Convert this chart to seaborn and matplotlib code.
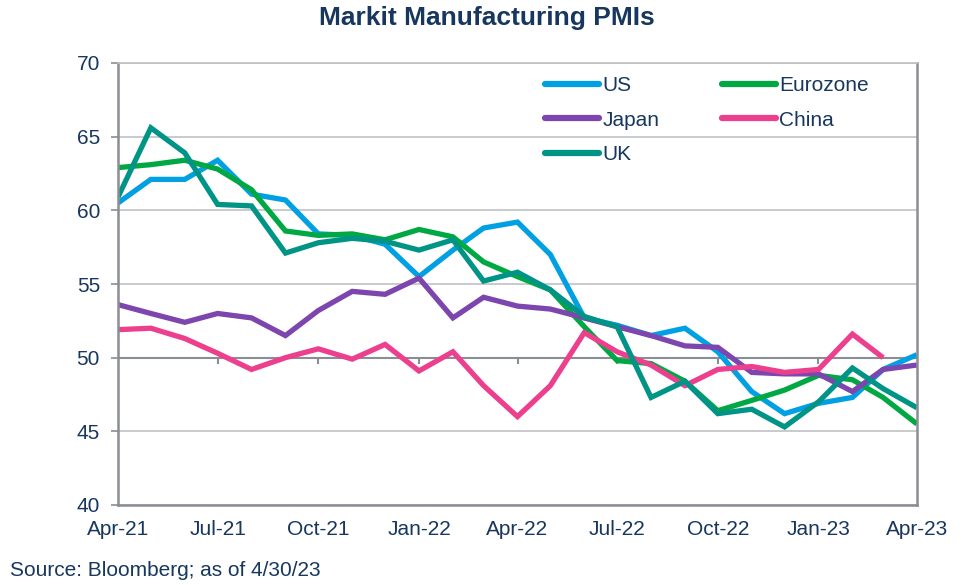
import matplotlib
matplotlib.use("Agg")
import matplotlib.pyplot as plt
import matplotlib.dates as mdates
import numpy as np
import pandas as pd
import seaborn as sns

months = pd.date_range("2021-04-01", "2023-04-01", freq="MS")

us = [60.5, 62.1, 62.1, 63.4, 61.1, 60.7, 58.4, 58.3, 57.7, 55.5, 57.3, 58.8, 59.2,
      57.0, 52.7, 52.2, 51.5, 52.0, 50.4, 47.7, 46.2, 46.9, 47.3, 49.2, 50.2]
eurozone = [62.9, 63.1, 63.4, 62.8, 61.4, 58.6, 58.3, 58.4, 58.0, 58.7, 58.2, 56.5, 55.5,
            54.6, 52.1, 49.8, 49.6, 48.4, 46.4, 47.1, 47.8, 48.8, 48.5, 47.3, 45.5]
japan = [53.6, 53.0, 52.4, 53.0, 52.7, 51.5, 53.2, 54.5, 54.3, 55.4, 52.7, 54.1, 53.5,
         53.3, 52.7, 52.1, 51.5, 50.8, 50.7, 49.0, 48.9, 48.9, 47.7, 49.2, 49.5]
china = [51.9, 52.0, 51.3, 50.3, 49.2, 50.0, 50.6, 49.9, 50.9, 49.1, 50.4, 48.1, 46.0,
         48.1, 51.7, 50.4, 49.5, 48.1, 49.2, 49.4, 49.0, 49.2, 51.6, 50.0, np.nan]
uk = [60.9, 65.6, 63.9, 60.4, 60.3, 57.1, 57.8, 58.1, 57.9, 57.3, 58.0, 55.2, 55.8,
      54.6, 52.8, 52.1, 47.3, 48.4, 46.2, 46.5, 45.3, 47.0, 49.3, 47.9, 46.6]

series_names = ["US", "Eurozone", "Japan", "China", "UK"]
series_values = [us, eurozone, japan, china, uk]
colors = ["#00A0E3", "#00A843", "#7D45AE", "#EC3F8E", "#009487"]

df = pd.concat(
    [pd.DataFrame({"date": months, "value": v, "series": n}) for n, v in zip(series_names, series_values)],
    ignore_index=True,
)

sns.set_theme(style="white")
plt.rcParams["font.family"] = ["Liberation Sans", "DejaVu Sans"]

navy = "#17375E"
grid_c = "#BFC1C4"
axis_c = "#8A8D92"

fig = plt.figure(figsize=(9.68, 5.85), dpi=100)
ax = fig.add_axes([118 / 968, 1 - 505 / 585, (917 - 118) / 968, (505 - 63) / 585])

sns.lineplot(data=df, x="date", y="value", hue="series", hue_order=series_names,
             palette=dict(zip(series_names, colors)), linewidth=3.8, ax=ax,
             legend=True, solid_capstyle="butt", solid_joinstyle="miter")

ax.set_xlim(months[0], months[-1])
ax.set_ylim(40, 70)
ax.set_yticks(np.arange(40, 71, 5))
ax.yaxis.grid(True, color=grid_c, linewidth=1.2, zorder=0)
ax.set_axisbelow(True)
ax.axhline(50, color=axis_c, linewidth=1.5, zorder=1)

qticks = months[::3]
ax.set_xticks(qticks)
ax.xaxis.set_major_formatter(mdates.DateFormatter("%b-%y"))
ax.vlines(qticks[1:-1], 49.6, 50, color=axis_c, linewidth=1.5, zorder=1)

ax.set_xlabel("")
ax.set_ylabel("")
ax.tick_params(axis="x", length=0, pad=11, labelsize=15, labelcolor=navy)
ax.tick_params(axis="y", length=5, width=1.2, color=axis_c, direction="out", pad=8,
               labelsize=15, labelcolor=navy, left=True)

for side in ["left", "right", "bottom"]:
    ax.spines[side].set_color(axis_c)
    ax.spines[side].set_linewidth(1.8)
ax.spines["top"].set_color(grid_c)
ax.spines["top"].set_linewidth(1.2)

handles, labels = ax.get_legend_handles_labels()
lookup = dict(zip(labels, handles))
order = ["US", "Japan", "UK", "Eurozone", "China"]
for h in handles:
    h.set_linewidth(4.5)
    h.set_solid_capstyle("round")
ax.legend([lookup[n] for n in order], order, ncol=2, frameon=False, loc="upper left",
          bbox_to_anchor=(545 / 968, 1 - 76 / 585), bbox_transform=fig.transFigure,
          fontsize=15, labelcolor=navy, handlelength=2.6, handletextpad=0.15,
          columnspacing=3.0, labelspacing=0.75, borderpad=0, borderaxespad=0)

fig.text(486.5 / 968, 1 - 18 / 585, "Markit Manufacturing PMIs", ha="center", va="center",
         fontsize=19, fontweight="bold", color=navy)
fig.text(10 / 968, 1 - 571 / 585, "Source: Bloomberg; as of 4/30/23", ha="left", va="center",
         fontsize=15, color=navy)

fig.savefig("out.png", dpi=100)
